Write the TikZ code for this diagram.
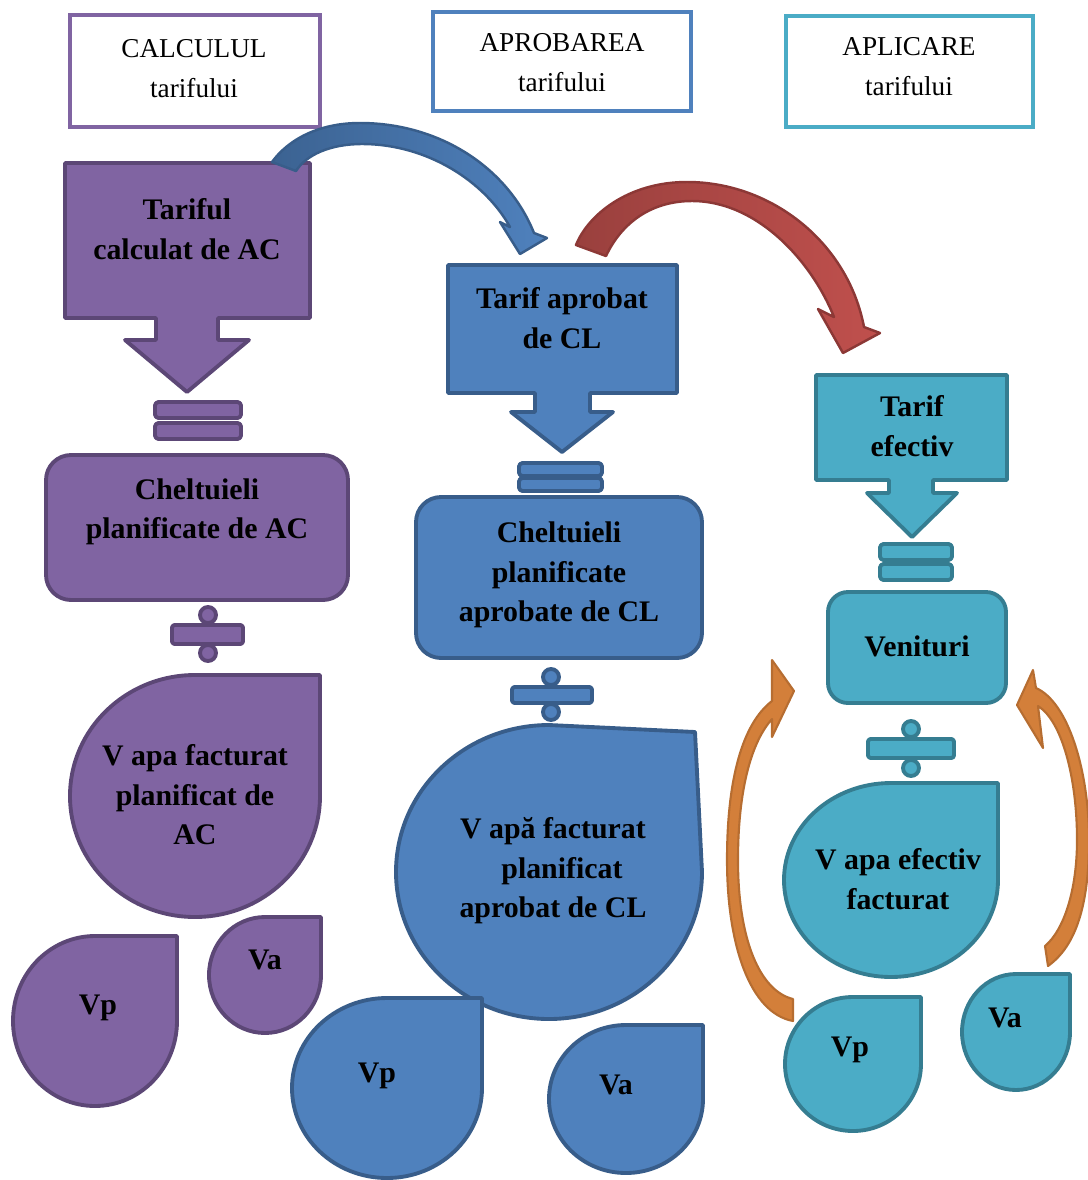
\documentclass[tikz,border=0pt]{standalone}
\usepackage{fontspec}
\setmainfont{Liberation Serif}
\definecolor{purF}{HTML}{8064A2}
\definecolor{purB}{HTML}{5C4776}
\definecolor{bluF}{HTML}{4F81BD}
\definecolor{bluB}{HTML}{385D8A}
\definecolor{tealF}{HTML}{4BACC6}
\definecolor{tealB}{HTML}{357D91}
\definecolor{redF}{HTML}{C0504D}
\definecolor{redB}{HTML}{8C3836}
\definecolor{orF}{HTML}{F79646}
\definecolor{orB}{HTML}{B66D31}
% teardrop: circle/ellipse with a square top-right corner
% #1 style, #2 cx, #3 cy, #4 rx, #5 ry
\newcommand\teardrop[5]{%
  \draw[#1] (#2,#3-#5) -- (#2+#4,#3-#5) -- (#2+#4,#3)
    arc[start angle=0,end angle=270,x radius=#4,y radius=#5] -- cycle;}
% equals sign: #1 style, #2 x1, #3 x2, #4 top bar y1, #5 y2, #6 bottom bar y1, #7 y2
\newcommand\eqsign[7]{%
  \draw[#1,rounded corners=2pt] (#2,#4) rectangle (#3,#5);
  \draw[#1,rounded corners=2pt] (#2,#6) rectangle (#3,#7);}
% division sign: #1 style, #2 cx, #3 x1, #4 x2, #5 top dot y, #6 bar y1, #7 bar y2, #8 bottom dot y
\newcommand\divsign[8]{%
  \draw[#1] (#2,#5) circle[radius=8];
  \draw[#1,rounded corners=1.5pt] (#3,#6) rectangle (#4,#7);
  \draw[#1] (#2,#8) circle[radius=8];}
\begin{document}
\begin{tikzpicture}[x=0.02cm,y=-0.02cm,
  shp/.style={line width=2.2pt,line join=round},
  pur/.style={shp,fill=purF,draw=purB},
  blu/.style={shp,fill=bluF,draw=bluB},
  teal/.style={shp,fill=tealF,draw=tealB},
  hdr/.style={line width=2.6pt,fill=white},
  lbl/.style={font=\fontsize{17}{22.5}\selectfont\bfseries,align=center,text=black,inner sep=0pt},
  htxt/.style={font=\fontsize{15.5}{22.7}\selectfont,align=center,text=black,inner sep=0pt},
  bluarrow/.style={line width=1.4pt,line join=round,draw=bluB,left color=bluB!85!bluF,right color=bluF},
  redarrow/.style={line width=1.4pt,line join=round,draw=redB,left color=redF!80!black,right color=redF},
  orarrow/.style={line width=1.2pt,line join=round,draw=orB,fill=orF!45!orB}]
\useasboundingbox (0,0) rectangle (1088,1180);

% stage headers
\draw[hdr,draw=purF] (70,15) rectangle (320,127);
\node[htxt] (h1) at (194,69) {CALCULUL\\tarifului};
\draw[hdr,draw=bluF] (433,12) rectangle (691,111);
\node[htxt] (h2) at (562,63) {APROBAREA\\tarifului};
\draw[hdr,draw=tealF] (786,16) rectangle (1033,127);
\node[htxt] (h3) at (909,67) {APLICARE\\tarifului};

% tariff callouts with downward arrows
\draw[pur] (65,163) -- (310,163) -- (310,318) -- (218,318) -- (218,340) -- (249,340)
  -- (187,392) -- (125,340) -- (156,340) -- (156,318) -- (65,318) -- cycle;
\node[lbl] (t1) at (187,229) {Tariful\\calculat de AC};
\draw[blu] (448,265) -- (677,265) -- (677,393) -- (590,393) -- (590,412) -- (613,412)
  -- (562,452) -- (511,412) -- (535,412) -- (535,393) -- (448,393) -- cycle;
\node[lbl] (t2) at (562,318) {Tarif aprobat\\de CL};
\draw[teal] (816,375) -- (1007,375) -- (1007,480) -- (933,480) -- (933,493) -- (957,493)
  -- (912,537) -- (867,493) -- (889,493) -- (889,480) -- (816,480) -- cycle;
\node[lbl] (t3) at (912,426) {Tarif\\efectiv};

% equals signs
\eqsign{pur}{155}{241}{402}{418}{423}{439}
\eqsign{blu}{519}{602}{463}{476}{478}{491}
\eqsign{teal}{880}{952}{544}{560}{564}{580}

% cost / revenue boxes
\draw[pur,rounded corners=0.5cm] (46,455) rectangle (348,600);
\node[lbl] (c1) at (197,512) {Cheltuieli\\planificate de AC};
\draw[blu,rounded corners=0.5cm] (416,497) rectangle (702,658);
\node[lbl] (c2) at (559,575) {Cheltuieli\\planificate\\aprobate de CL};
\draw[teal,rounded corners=0.4cm] (828,592) rectangle (1006,703);
\node[lbl] (c3) at (917,646) {Venituri};

% division signs
\divsign{pur}{208}{172}{243}{615}{625}{644}{653}
\divsign{blu}{551}{512}{592}{677}{687}{703}{712}
\divsign{teal}{911}{868}{954}{729}{739}{758}{768}

% billed volumes
\teardrop{pur}{195}{796}{125}{121}
\node[lbl] (v1) at (195,795) {V apa facturat\\planificat de\\AC};
\draw[blu] (549,725) -- (695,732) -- (702,872)
  arc[start angle=0,end angle=270,x radius=153,y radius=147] -- cycle;
\node[lbl] (v2) at (553,871) {V apă facturat\\\hspace{0.6em}planificat\\aprobat de CL};
\teardrop{teal}{891}{880}{107}{97}
\node[lbl] (v3) at (898,879) {V apa efectiv\\facturat};

% components Vp and Va
\teardrop{pur}{95}{1021}{82}{85}
\node[lbl] (p1) at (98,1008) {Vp};
\teardrop{pur}{265}{975}{56}{58}
\node[lbl] (a1) at (265,960) {Va};
\teardrop{blu}{387}{1088}{95}{90}
\node[lbl] (p2) at (377,1076) {Vp};
\teardrop{blu}{626}{1099}{77}{74}
\node[lbl] (a2) at (616,1085) {Va};
\teardrop{teal}{853}{1064}{68}{67}
\node[lbl] (p3) at (850,1050) {Vp};
\teardrop{teal}{1016}{1032}{54}{58}
\node[lbl] (a3) at (1005,1018) {Va};

% curved arrows between stages
\draw[bluarrow] (296,171) .. controls (306,155) and (330,144) .. (362,144)
  .. controls (428,144) and (485,182) .. (510,227) -- (500,222) -- (520,254) -- (547,238)
  -- (534,233) .. controls (508,168) and (440,123) .. (360,123)
  .. controls (318,123) and (288,140) .. (272,162) -- cycle;
\draw[redarrow] (606,256) .. controls (622,222) and (652,201) .. (692,201)
  .. controls (758,201) and (812,262) .. (834,317) -- (818,309) -- (843,353) -- (880,333)
  -- (864,327) .. controls (848,243) and (772,182) .. (687,182)
  .. controls (628,182) and (588,215) .. (576,245) -- cycle;

% feedback arrows towards revenue
\draw[orarrow] (794,691) -- (772,737) -- (772,719) .. controls (748,746) and (738,800) .. (738,860)
  .. controls (738,940) and (760,991) .. (793,999) -- (793,1021)
  .. controls (750,1013) and (727,945) .. (727,860)
  .. controls (727,780) and (742,724) .. (772,701) -- (772,660) -- cycle;
\draw[orarrow] (1017,705) -- (1033,670) -- (1036,688) .. controls (1068,702) and (1089,770) .. (1089,840)
  .. controls (1089,905) and (1076,946) .. (1048,966) -- (1045,946)
  .. controls (1064,930) and (1077,890) .. (1077,840)
  .. controls (1077,778) and (1062,721) .. (1038,706) -- (1043,748) -- cycle;
\end{tikzpicture}
\end{document}
